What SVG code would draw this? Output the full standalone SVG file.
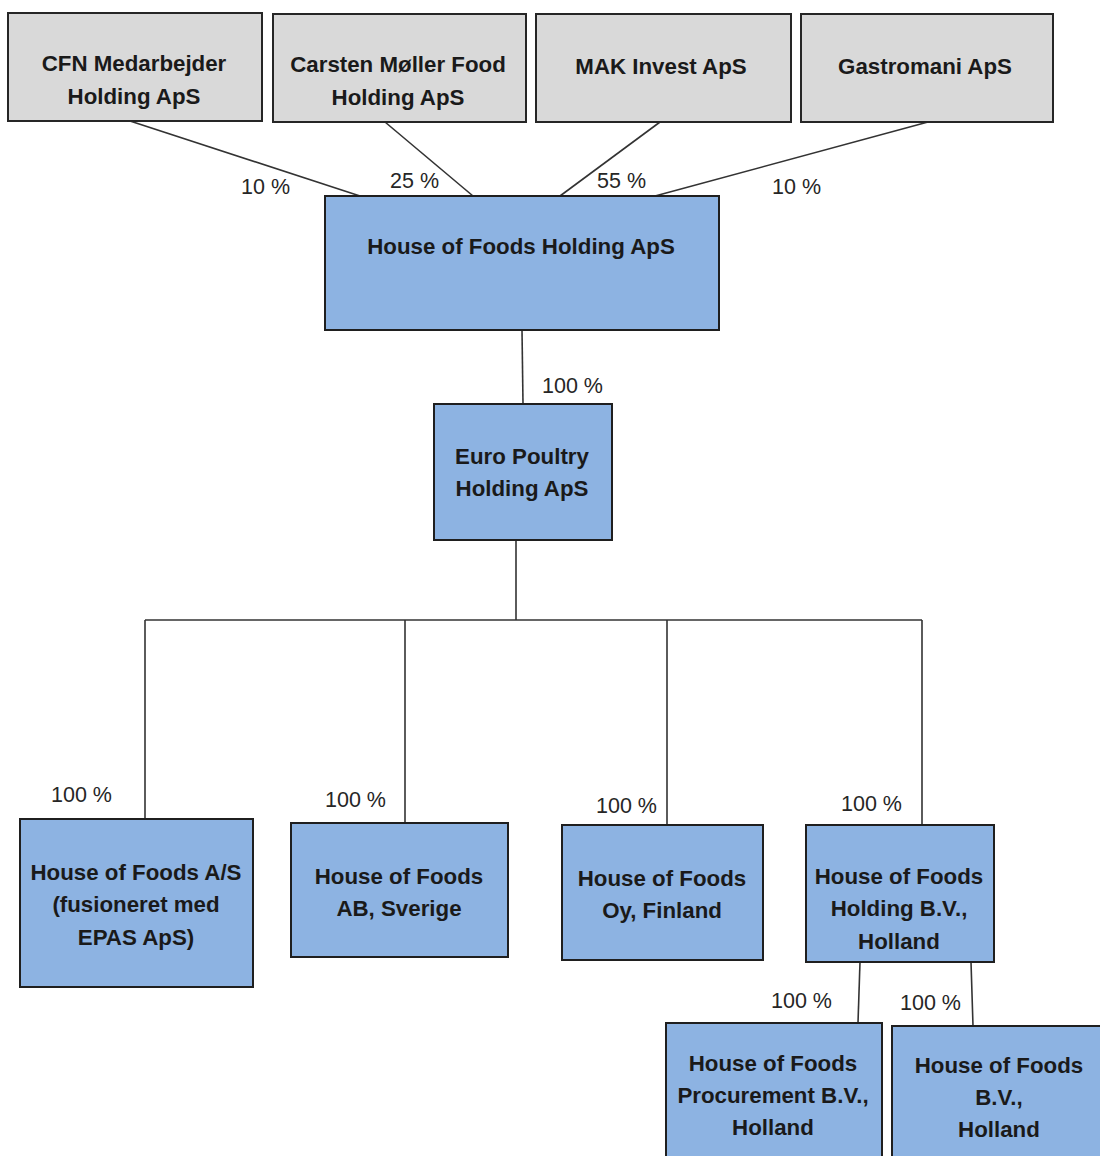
<svg xmlns="http://www.w3.org/2000/svg" width="1100" height="1156" viewBox="0 0 1100 1156">
<style>
.owner{fill:#d9d9d9;stroke:#262626;stroke-width:2}
.co{fill:#8db3e2;stroke:#1f1f1f;stroke-width:2}
.t{font-family:"Liberation Sans",Arial,sans-serif;font-weight:bold;font-size:22.3px;fill:#1a1a1a;text-anchor:middle}
.p{font-family:"Liberation Sans",Arial,sans-serif;font-size:21.5px;fill:#262626}
.c{stroke:#333;stroke-width:1.6;fill:none}
</style>
<rect width="1100" height="1156" fill="#fff"/>
<g id="connectors">
<line class="c" x1="130" y1="121" x2="360" y2="196"/>
<line class="c" x1="385" y1="122" x2="473" y2="196"/>
<line class="c" x1="660" y1="122" x2="560" y2="196"/>
<line class="c" x1="928" y1="122" x2="655" y2="196"/>
<line class="c" x1="522" y1="330" x2="523" y2="404"/>
<line class="c" x1="516" y1="540" x2="516" y2="620"/>
<line class="c" x1="145" y1="620" x2="922" y2="620"/>
<line class="c" x1="145" y1="620" x2="145" y2="819"/>
<line class="c" x1="405" y1="620" x2="405" y2="823"/>
<line class="c" x1="667" y1="620" x2="667" y2="825"/>
<line class="c" x1="922" y1="620" x2="922" y2="825"/>
<line class="c" x1="860" y1="962" x2="858" y2="1023"/>
<line class="c" x1="971" y1="962" x2="973" y2="1026"/>
<text class="p" x="241" y="194">10 %</text>
<text class="p" x="390" y="188">25 %</text>
<text class="p" x="597" y="188">55 %</text>
<text class="p" x="772" y="194">10 %</text>
<text class="p" x="542" y="393">100 %</text>
<text class="p" x="51" y="802">100 %</text>
<text class="p" x="325" y="807">100 %</text>
<text class="p" x="596" y="813">100 %</text>
<text class="p" x="841" y="811">100 %</text>
<text class="p" x="771" y="1008">100 %</text>
<text class="p" x="900" y="1010">100 %</text>
</g>
<g id="cfn">
<rect class="owner" x="8" y="13" width="254" height="108"/>
<text class="t" x="134" y="71">CFN Medarbejder</text>
<text class="t" x="134" y="104">Holding ApS</text>
</g>
<g id="carsten">
<rect class="owner" x="273" y="14" width="253" height="108"/>
<text class="t" x="398" y="72">Carsten Møller Food</text>
<text class="t" x="398" y="105">Holding ApS</text>
</g>
<g id="mak">
<rect class="owner" x="536" y="14" width="255" height="108"/>
<text class="t" x="661" y="74">MAK Invest ApS</text>
</g>
<g id="gastromani">
<rect class="owner" x="801" y="14" width="252" height="108"/>
<text class="t" x="925" y="74">Gastromani ApS</text>
</g>
<g id="hof-holding">
<rect class="co" x="325" y="196" width="394" height="134"/>
<text class="t" x="521" y="254">House of Foods Holding ApS</text>
</g>
<g id="euro-poultry">
<rect class="co" x="434" y="404" width="178" height="136"/>
<text class="t" x="522" y="464">Euro Poultry</text>
<text class="t" x="522" y="496">Holding ApS</text>
</g>
<g id="hof-as">
<rect class="co" x="20" y="819" width="233" height="168"/>
<text class="t" x="136" y="880">House of Foods A/S</text>
<text class="t" x="136" y="912">(fusioneret med</text>
<text class="t" x="136" y="945">EPAS ApS)</text>
</g>
<g id="hof-ab">
<rect class="co" x="291" y="823" width="217" height="134"/>
<text class="t" x="399" y="884">House of Foods</text>
<text class="t" x="399" y="916">AB, Sverige</text>
</g>
<g id="hof-oy">
<rect class="co" x="562" y="825" width="201" height="135"/>
<text class="t" x="662" y="886">House of Foods</text>
<text class="t" x="662" y="918">Oy, Finland</text>
</g>
<g id="hof-holding-bv">
<rect class="co" x="806" y="825" width="188" height="137"/>
<text class="t" x="899" y="884">House of Foods</text>
<text class="t" x="899" y="916">Holding B.V.,</text>
<text class="t" x="899" y="949">Holland</text>
</g>
<g id="hof-procurement">
<rect class="co" x="666" y="1023" width="216" height="150"/>
<text class="t" x="773" y="1071">House of Foods</text>
<text class="t" x="773" y="1103">Procurement B.V.,</text>
<text class="t" x="773" y="1135">Holland</text>
</g>
<g id="hof-bv">
<rect class="co" x="892" y="1026" width="220" height="150"/>
<text class="t" x="999" y="1073">House of Foods</text>
<text class="t" x="999" y="1105">B.V.,</text>
<text class="t" x="999" y="1137">Holland</text>
</g>
</svg>
